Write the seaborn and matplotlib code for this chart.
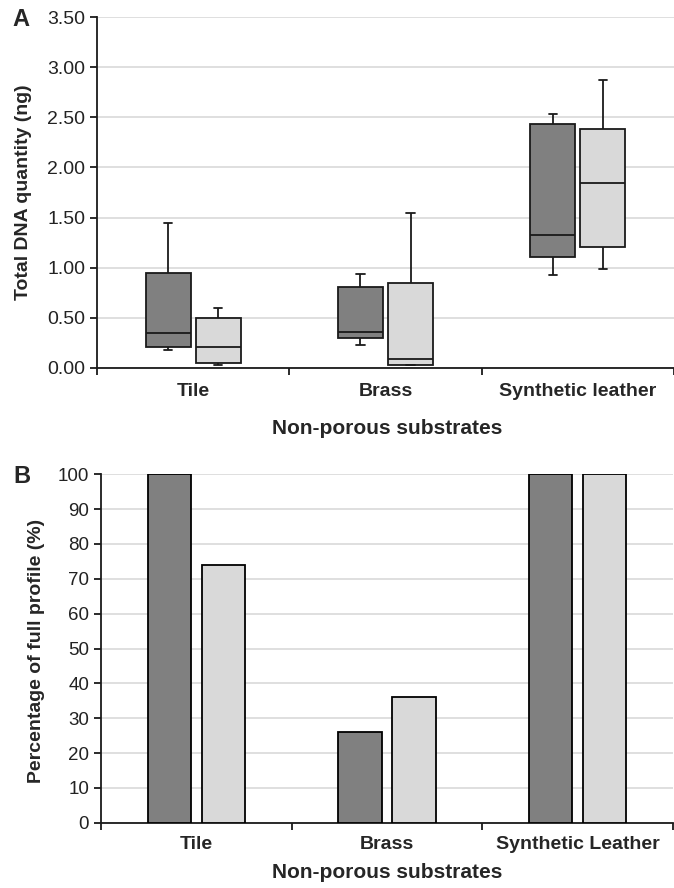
import numpy as np
import pandas as pd
import matplotlib
matplotlib.use("Agg")
import matplotlib.pyplot as plt
from matplotlib.ticker import FormatStrFormatter, FixedLocator
import seaborn as sns

# ── Data ─────────────────────────────────────────────────────
substrates_a = ["Tile", "Brass", "Synthetic leather"]
substrates_b = ["Tile", "Brass", "Synthetic Leather"]
groups = ["Series 1", "Series 2"]

# five-number summaries per substrate: [min, q1, median, q3, max]
dna_series1 = [
    [0.18, 0.21, 0.35, 0.95, 1.45],
    [0.23, 0.30, 0.36, 0.81, 0.94],
    [0.93, 1.11, 1.33, 2.43, 2.53],
]
dna_series2 = [
    [0.03, 0.05, 0.21, 0.50, 0.60],
    [0.03, 0.03, 0.09, 0.85, 1.55],
    [0.99, 1.21, 1.84, 2.38, 2.87],
]

profile_series1 = [100, 26, 100]
profile_series2 = [74, 36, 100]

# ── Tables ───────────────────────────────────────────────────
rows = []
for grp, series in zip(groups, [dna_series1, dna_series2]):
    for sub, vals in zip(substrates_a, series):
        for v in vals:
            rows.append({"substrate": sub, "group": grp, "dna": v})
df_a = pd.DataFrame(rows)

df_b = pd.DataFrame({
    "substrate": substrates_b * 2,
    "group": [groups[0]] * 3 + [groups[1]] * 3,
    "profile": profile_series1 + profile_series2,
})

# ── Style ────────────────────────────────────────────────────
sns.set_style("white")
plt.rcParams["font.family"] = ["Liberation Sans", "DejaVu Sans"]

palette = {groups[0]: "#808080", groups[1]: "#d9d9d9"}
edge = "#1a1a1a"
grid_c = "#d9d9d9"

fig = plt.figure(figsize=(6.74, 8.88), dpi=100)
ax1 = fig.add_axes([97 / 674, 520 / 888, 577 / 674, 351 / 888])
ax2 = fig.add_axes([101 / 674, 65.3 / 888, 572 / 674, 348.4 / 888])

# ── Panel A: boxplots ────────────────────────────────────────
sns.boxplot(
    data=df_a, x="substrate", y="dna", hue="group", order=substrates_a,
    hue_order=groups, palette=palette, whis=(0, 100), width=0.52, gap=0.1,
    linewidth=1.3, linecolor=edge, legend=False, ax=ax1, zorder=3,
)
# shorten whisker caps
for ln in ax1.lines:
    xd = np.asarray(ln.get_xdata(), dtype=float)
    yd = np.asarray(ln.get_ydata(), dtype=float)
    if len(xd) == 2 and yd[0] == yd[1]:
        span = abs(xd[1] - xd[0])
        if 0.05 < span < 0.2:
            c = xd.mean()
            ln.set_xdata([c - 0.022, c + 0.022])

ax1.set_ylim(0, 3.5)
ax1.set_xlim(-0.5, 2.46)
ax1.yaxis.set_major_locator(FixedLocator(np.arange(0, 3.51, 0.5)))
ax1.yaxis.set_major_formatter(FormatStrFormatter("%.2f"))

# ── Panel B: bars ────────────────────────────────────────────
sns.barplot(
    data=df_b, x="substrate", y="profile", hue="group", order=substrates_b,
    hue_order=groups, palette=palette, width=0.568, gap=0.2,
    edgecolor="black", linewidth=1.3, legend=False, ax=ax2, zorder=3,
)
ax2.set_ylim(0, 100)
ax2.set_xlim(-0.5, 2.5)
ax2.yaxis.set_major_locator(FixedLocator(np.arange(0, 101, 10)))

# ── Common axis cosmetics ────────────────────────────────────
for ax, labels, ysize, xpad in [(ax1, substrates_a, 14, 11), (ax2, substrates_b, 13.5, 9.5)]:
    for s in ["top", "right"]:
        ax.spines[s].set_visible(False)
    for s in ["left", "bottom"]:
        ax.spines[s].set_color(edge)
        ax.spines[s].set_linewidth(1.3)
    ax.yaxis.grid(True, color=grid_c, linewidth=1.2, zorder=0)
    ax.set_axisbelow(True)
    ax.set_xticks([-0.5, 0.5, 1.5, 2.5])
    ax.set_xticklabels([])
    ax.set_xticks([0, 1, 2], minor=True)
    ax.set_xticklabels(labels, minor=True, fontsize=14, fontweight="bold")
    ax.tick_params(axis="x", which="major", direction="out", length=5,
                   width=1.3, color=edge, bottom=True)
    ax.tick_params(axis="x", which="minor", length=0, pad=xpad)
    ax.tick_params(axis="y", direction="out", length=5, width=1.3,
                   color=edge, left=True, labelsize=ysize, labelcolor="#222222")

ax1.set_xlabel("Non-porous substrates", fontsize=15, fontweight="bold")
ax1.set_ylabel("Total DNA quantity (ng)", fontsize=14, fontweight="bold")
ax1.xaxis.set_label_coords(0.503, -0.145)
ax1.yaxis.set_label_coords(-0.113, 0.5)

ax2.set_xlabel("Non-porous substrates", fontsize=15, fontweight="bold")
ax2.set_ylabel("Percentage of full profile (%)", fontsize=14, fontweight="bold")
ax2.xaxis.set_label_coords(0.5, -0.116)
ax2.yaxis.set_label_coords(-0.098, 0.493)

fig.text(21 / 674, 1 - 19 / 888, "A", fontsize=17, fontweight="bold",
         ha="center", va="center")
fig.text(22 / 674, 1 - 476 / 888, "B", fontsize=17, fontweight="bold",
         ha="center", va="center")

fig.savefig("out.png", dpi=100)
